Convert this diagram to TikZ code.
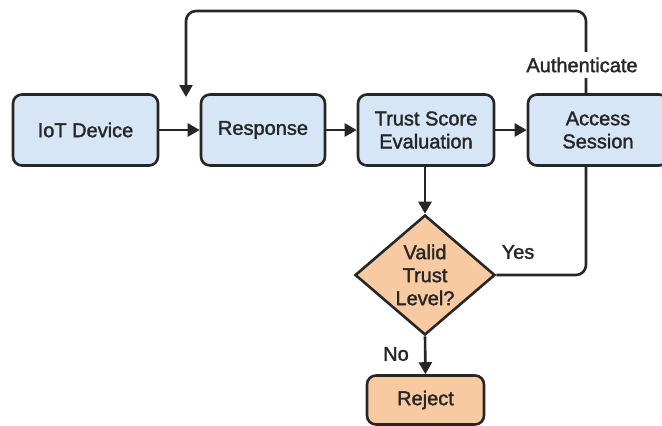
\documentclass[tikz,border=0pt]{standalone}
\usepackage{fontspec}
\setmainfont{Liberation Sans}[FakeBold=1.6]
\usetikzlibrary{shapes.geometric,arrows.meta}
\definecolor{boxblue}{HTML}{D6E6F6}
\definecolor{boxorange}{HTML}{F8CAA2}
\definecolor{ink}{HTML}{262626}
\tikzset{
  flow/.style={draw=ink, line width=2.6pt, rounded corners=9pt, align=center,
    text=ink, inner sep=0pt, font=\fontsize{20}{23}\selectfont},
  bluebox/.style={flow, fill=boxblue},
  orangebox/.style={flow, fill=boxorange},
  decision/.style={draw=ink, line width=2.6pt, fill=boxorange, diamond, aspect=1.17,
    inner sep=0pt, minimum width=140pt, minimum height=120pt, align=center,
    text=ink, font=\fontsize{20}{23}\selectfont},
  link/.style={draw=ink, line width=2.6pt},
  arrow/.style={link, -{Triangle[length=12pt,width=13pt]}},
  lbl/.style={text=ink, font=\fontsize{20}{23}\selectfont, inner sep=0pt}
}
\begin{document}
\begin{tikzpicture}[x=1pt,y=-1pt]
  \useasboundingbox (0,0) rectangle (662,426);

  % process boxes
  \node[bluebox, minimum width=145pt, minimum height=71pt] (iot) at (85.5,130) {IoT Device};
  \node[bluebox, minimum width=124pt, minimum height=71pt] (resp) at (263,130) {Response};
  \node[bluebox, minimum width=136pt, minimum height=71pt] (trust) at (426,130) {Trust Score\\Evaluation};
  \node[bluebox, minimum width=140pt, minimum height=71pt] (access) at (598,130) {Access\\Session};

  % decision and rejection
  \node[decision] (dia) at (425,275) {Valid\\Trust\\Level?};
  \node[orangebox, minimum width=117pt, minimum height=49pt] (reject) at (425.5,400) {Reject};

  % main flow
  \draw[arrow] (iot.east) -- (resp.west);
  \draw[arrow] (resp.east) -- (trust.west);
  \draw[arrow] (trust.east) -- (access.west);
  \draw[arrow] (trust.south -| dia.north) -- (dia.north);
  \draw[arrow] (dia.south) -- (reject.north);

  % loop back from the session to the response step
  \coordinate (fbx) at (586,0);
  \coordinate (fbtop) at (586,11);
  \coordinate (fbend) at (186,97);
  \draw[arrow, rounded corners=10pt] (access.north -| fbx) -- (fbtop) -| (fbend);
  \node[lbl, fill=white, inner xsep=3pt, inner ysep=6pt] (auth) at (582,65) {Authenticate};

  % accepted path
  \draw[link, rounded corners=10pt] (dia.east) -| (access.south -| fbx);

  % branch labels
  \node[lbl] (yes) at (518,252) {Yes};
  \node[lbl] (no) at (396,354) {No};
\end{tikzpicture}
\end{document}
